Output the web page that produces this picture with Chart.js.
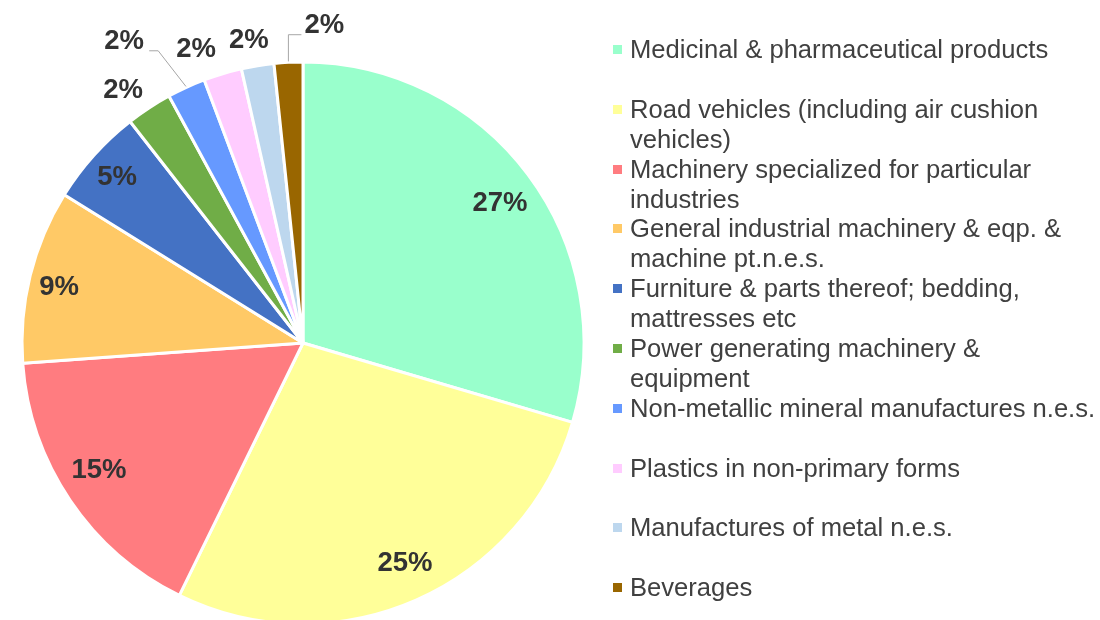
<!DOCTYPE html>
<html>
<head>
<meta charset="utf-8">
<script src="https://cdn.jsdelivr.net/npm/chart.js@4/dist/chart.umd.min.js"></script>
<style>
  body { margin: 0; background: #fff; overflow: hidden; }
  #wrap { position: relative; width: 1100px; height: 630px; }
  #legend { position: absolute; left: 0; top: 0; font-family: "Liberation Sans", Arial, sans-serif; font-size: 25.6px; color: #404040; }
  .item { position: absolute; left: 613px; line-height: 30px; white-space: nowrap; }
  .box { position: absolute; left: 0; top: 11px; width: 9px; height: 9px; }
  .txt { position: absolute; left: 17px; top: 0; }
</style>
</head>
<body>
<div id="wrap">
  <canvas id="pieChart"></canvas>
  <div id="legend"></div>
</div>
<script>
// data (share of total exports, %)
const categories = [
  ['Medicinal & pharmaceutical products'],
  ['Road vehicles (including air cushion', 'vehicles)'],
  ['Machinery specialized for particular', 'industries'],
  ['General industrial machinery & eqp. &', 'machine pt.n.e.s.'],
  ['Furniture & parts thereof; bedding,', 'mattresses etc'],
  ['Power generating machinery &', 'equipment'],
  ['Non-metallic mineral manufactures n.e.s.'],
  ['Plastics in non-primary forms'],
  ['Manufactures of metal n.e.s.'],
  ['Beverages']
];
const shares = [26.9, 25.2, 15.1, 9.1, 5.1, 2.4, 2.0, 2.0, 1.7, 1.5];
const colors = ['#99FFCC', '#FFFF99', '#FF7C80', '#FFC966', '#4472C4',
                '#70AD47', '#6699FF', '#FFCCFF', '#BDD7EE', '#996600'];

// where each percentage label sits (inside fraction, or outside offset), turn in degrees
const labelSpots = [
  {r: 0.86, turn: 1.4}, {r: 0.863, turn: -1.15}, {r: 0.857, turn: 1.95},
  {r: 0.89, turn: -1.1}, {r: 0.885, turn: -0.3},
  {out: 31, turn: -2},
  {out: 71, turn: -6, leader: 'elbow'},
  {out: 33, turn: -3.3},
  {out: 28, turn: -0.8},
  {out: 39, turn: 6.8, leader: 'up'}
];

const pieLabels = {
  id: 'pieLabels',
  afterDatasetsDraw(chart) {
    const ctx = chart.ctx;
    const meta = chart.getDatasetMeta(0);
    ctx.save();
    ctx.font = 'bold 27.5px "Liberation Sans", Arial, sans-serif';
    ctx.fillStyle = '#333333';
    ctx.textAlign = 'center';
    ctx.textBaseline = 'middle';
    ctx.strokeStyle = '#a6a6a6';
    ctx.lineWidth = 1;
    meta.data.forEach((arc, i) => {
      const p = arc.getProps(['x', 'y', 'startAngle', 'endAngle', 'outerRadius'], true);
      const mid = (p.startAngle + p.endAngle) / 2;
      const spot = labelSpots[i];
      const a = mid + spot.turn * Math.PI / 180;
      let lx, ly;
      if (spot.r) {
        lx = p.x + Math.cos(a) * p.outerRadius * spot.r;
        ly = p.y + Math.sin(a) * p.outerRadius * spot.r;
      } else {
        lx = p.x + Math.cos(a) * (p.outerRadius + spot.out);
        ly = p.y + Math.sin(a) * (p.outerRadius + spot.out) + 2;
      }
      const ex = p.x + Math.cos(mid) * (p.outerRadius + 1);
      const ey = p.y + Math.sin(mid) * (p.outerRadius + 1);
      if (spot.leader === 'elbow') {
        ctx.beginPath();
        ctx.moveTo(ex, ey);
        ctx.lineTo(lx + 34, ly + 9);
        ctx.lineTo(lx + 25, ly + 9);
        ctx.stroke();
      } else if (spot.leader === 'up') {
        ctx.beginPath();
        ctx.moveTo(ex, ey);
        ctx.lineTo(ex, ly + 9);
        ctx.lineTo(lx - 23, ly + 9);
        ctx.stroke();
      }
      ctx.fillText(Math.round(shares[i]) + '%', lx, ly);
    });
    ctx.restore();
  }
};

const ctx = document.getElementById('pieChart').getContext('2d');
new Chart(ctx, {
  type: 'pie',
  data: {
    labels: categories.map(c => c.join(' ')),
    datasets: [{
      data: shares,
      backgroundColor: colors,
      borderColor: '#ffffff',
      borderWidth: 3
    }]
  },
  options: {
    responsive: true,
    maintainAspectRatio: false,
    animation: false,
    radius: 281,
    layout: { padding: { left: 22, right: 516, top: 62, bottom: 6 } },
    plugins: {
      legend: { display: false },
      tooltip: { enabled: false }
    }
  },
  plugins: [pieLabels]
});

// html legend on the right
const legend = document.getElementById('legend');
categories.forEach((lines, i) => {
  const item = document.createElement('div');
  item.className = 'item';
  item.style.top = (34 + i * 59.8) + 'px';
  const box = document.createElement('div');
  box.className = 'box';
  box.style.background = colors[i];
  const txt = document.createElement('div');
  txt.className = 'txt';
  txt.innerHTML = lines.join('<br>');
  item.appendChild(box);
  item.appendChild(txt);
  legend.appendChild(item);
});
</script>
</body>
</html>
